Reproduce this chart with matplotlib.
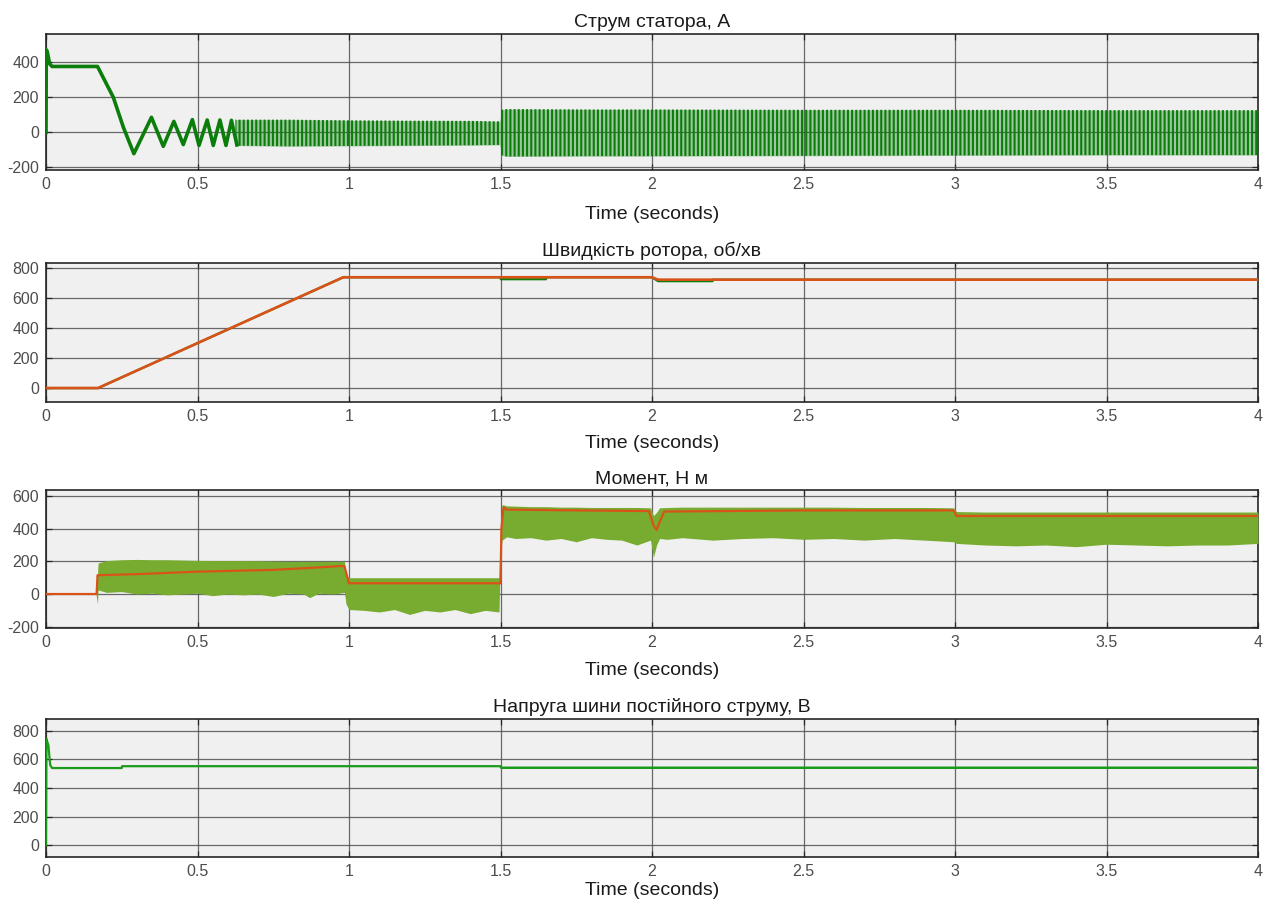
import matplotlib
matplotlib.use("Agg")
import matplotlib.pyplot as plt
import numpy as np

plt.rcParams['font.family'] = ['Liberation Sans', 'DejaVu Sans']
plt.rcParams['axes.unicode_minus'] = False
plt.rcParams['hatch.linewidth'] = 1.5

# ---------------- data ----------------
titles = ["Струм статора, А", "Швидкість ротора, об/хв", "Момент, Н м",
          "Напруга шини постійного струму, В"]
xlabel = "Time (seconds)"
x_ticks = [0, 0.5, 1, 1.5, 2, 2.5, 3, 3.5, 4]
x_ticklabels = ["0", "0.5", "1", "1.5", "2", "2.5", "3", "3.5", "4"]

# stator current: start-up transient (discrete swings)
cur_t = [0, 0.001, 0.004, 0.012, 0.02, 0.17, 0.222, 0.255, 0.29, 0.348, 0.387,
         0.422, 0.453, 0.483, 0.505, 0.532, 0.552, 0.574, 0.594, 0.612, 0.630]
cur_v = [0, 470, 460, 390, 375, 375, 200, 30, -122, 85, -80, 62, -70, 72, -75,
         70, -75, 70, -75, 68, -72]
# stator current: dense oscillation envelope
cur_env_t = [0.625, 0.8, 1.0, 1.2, 1.4, 1.498, 1.502, 1.52, 1.8, 2.0, 2.5, 3.0, 3.5, 4.0]
cur_env_hi = [72, 72, 68, 66, 65, 62, 128, 132, 130, 130, 128, 128, 126, 126]
cur_env_lo = [-76, -80, -78, -76, -74, -72, -130, -138, -136, -136, -134, -132, -130, -130]

# rotor speed
spd_ref_t = [0, 0.172, 0.981, 2.0, 2.02, 4.0]
spd_ref = [0, 0, 738, 738, 722, 722]
spd_t = [0, 0.172, 0.981, 1.5, 1.501, 1.65, 1.651, 2.0, 2.02, 2.2, 2.201, 4.0]
spd = [0, 0, 738, 738, 725, 725, 738, 738, 712, 712, 722, 722]

# torque: measured band
tq_t = [0.165, 0.170, 0.172, 0.20, 0.25, 0.30, 0.35, 0.40, 0.45, 0.50, 0.55, 0.60,
        0.65, 0.70, 0.75, 0.80, 0.85, 0.87, 0.90, 0.95, 0.985, 0.990, 1.000, 1.05,
        1.10, 1.15, 1.20, 1.25, 1.30, 1.35, 1.40, 1.45, 1.495, 1.500, 1.505, 1.52,
        1.55, 1.60, 1.65, 1.70, 1.75, 1.80, 1.85, 1.90, 1.95, 1.995, 2.005, 2.015,
        2.025, 2.05, 2.10, 2.20, 2.30, 2.40, 2.50, 2.60, 2.70, 2.80, 2.90, 2.995,
        3.005, 3.10, 3.20, 3.30, 3.40, 3.50, 3.60, 3.70, 3.80, 3.90, 4.00]
tq_hi = [0, 120, 190, 205, 210, 212, 210, 210, 208, 206, 205, 205,
         205, 204, 202, 200, 200, 200, 200, 200, 200, 110, 100, 100,
         100, 100, 100, 100, 100, 100, 100, 100, 100, 400, 548, 540,
         538, 535, 535, 532, 532, 530, 530, 530, 530, 528, 480, 500,
         528, 530, 532, 532, 532, 532, 532, 532, 530, 530, 530, 528,
         505, 502, 502, 502, 502, 502, 502, 502, 502, 502, 502]
tq_lo = [0, -60, 25, 10, 15, 0, 5, -5, 0, 5, -10, 0,
         -5, 0, -15, 5, 0, -22, 5, 0, 10, -60, -95, -100,
         -110, -95, -125, -100, -110, -95, -120, -100, -110, 260, 330, 350,
         340, 345, 330, 340, 320, 345, 335, 330, 300, 330, 225, 300,
         340, 335, 345, 330, 340, 345, 335, 340, 330, 340, 330, 320,
         310, 300, 295, 300, 290, 305, 300, 295, 300, 300, 310]
# torque: reference / mean
tq_ref_t = [0, 0.167, 0.170, 0.30, 0.50, 0.75, 0.90, 0.975, 0.985, 1.0, 1.5, 1.503,
            1.510, 1.52, 1.70, 1.99, 2.005, 2.015, 2.025, 2.04, 2.5, 2.995, 3.005,
            3.5, 4.0]
tq_ref = [0, 0, 115, 122, 137, 148, 163, 172, 170, 66, 66, 400, 530, 517, 513,
          508, 420, 392, 440, 505, 512, 512, 478, 478, 478]

# DC bus voltage
dc_t = [0, 0.0015, 0.004, 0.008, 0.011, 0.014, 0.02, 0.25, 0.251, 1.5, 1.501, 4.0]
dc_v = [0, 745, 725, 700, 625, 560, 540, 540, 553, 553, 543, 543]
dc_band_t = [0.02, 0.25, 0.2501, 1.5, 1.5001, 4.0]
dc_band_hi = [548, 548, np.nan, np.nan, 550, 550]
dc_band_lo = [533, 533, np.nan, np.nan, 536, 536]

ylims = [(-215, 560), (-93, 833), (-208, 637), (-84, 884)]
yticks = [[-200, 0, 200, 400], [0, 200, 400, 600, 800],
          [-200, 0, 200, 400, 600], [0, 200, 400, 600, 800]]

# ---------------- styling ----------------
DARK_GREEN = "#0a7d0a"
OLIVE = "#77AC30"
ORANGE = "#D95319"
DC_GREEN = "#1c9a1c"

fig = plt.figure(figsize=(12.78, 9.08), dpi=100)
fig.patch.set_facecolor("white")

left, width = 46 / 1278, 1212 / 1278
pix = [(34, 170), (263, 402), (490, 628), (719, 857)]
labelpads = [10, 8, 8.5, 2]
axes = []
for top, bot in pix:
    ax = fig.add_axes([left, 1 - bot / 908, width, (bot - top) / 908])
    axes.append(ax)

for i, ax in enumerate(axes):
    ax.set_facecolor("#F0F0F0")
    ax.set_xlim(0, 4)
    ax.set_ylim(*ylims[i])
    ax.set_xticks(x_ticks)
    ax.set_xticklabels(x_ticklabels)
    ax.set_yticks(yticks[i])
    ax.grid(True, color="#505050", linewidth=0.9, alpha=0.85)
    ax.set_axisbelow(True)
    ax.tick_params(direction="in", length=4, width=0.9, colors="#262626",
                   labelcolor="#4d4d4d", labelsize=11.5, top=True, right=True,
                   pad=5)
    for s in ax.spines.values():
        s.set_color("#262626")
        s.set_linewidth(1.2)
    ax.set_title(titles[i], fontsize=14, color="#1a1a1a", pad=5)
    ax.set_xlabel(xlabel, fontsize=14, color="#1a1a1a", labelpad=labelpads[i])

# stator current
ax = axes[0]
ax.plot(cur_t, cur_v, color=DARK_GREEN, lw=2.6, zorder=3)
ax.fill_between(cur_env_t, cur_env_lo, cur_env_hi, color=DARK_GREEN, alpha=0.35,
                lw=0, zorder=3)
ax.fill_between(cur_env_t, cur_env_lo, cur_env_hi, facecolor="none",
                edgecolor=DARK_GREEN, hatch="||||", lw=0, zorder=3)

# rotor speed
ax = axes[1]
ax.plot(spd_t, spd, color=DARK_GREEN, lw=1.6, zorder=3)
ax.plot(spd_ref_t, spd_ref, color=ORANGE, lw=1.9, zorder=4)

# torque
ax = axes[2]
ax.fill_between(tq_t, tq_lo, tq_hi, color=OLIVE, lw=0, zorder=3)
ax.plot(tq_ref_t, tq_ref, color=ORANGE, lw=1.6, zorder=4)

# DC voltage
ax = axes[3]
ax.plot(dc_t, dc_v, color=DC_GREEN, lw=1.6, zorder=3)
ax.fill_between(dc_band_t, dc_band_lo, dc_band_hi, color=DC_GREEN, lw=0, zorder=3)

fig.savefig("out.png", dpi=100, facecolor="white")
